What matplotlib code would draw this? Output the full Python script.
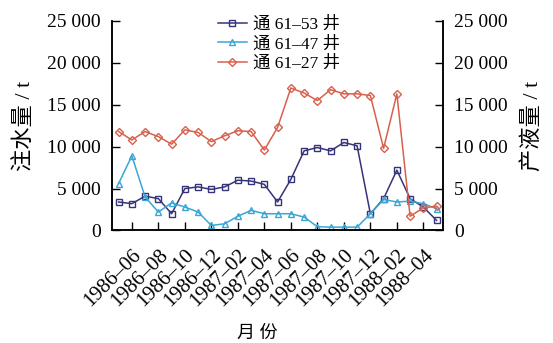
import matplotlib
matplotlib.use("Agg")
import matplotlib.pyplot as plt
import matplotlib.transforms as mtransforms
import numpy as np

# monthly records, 1986-05 .. 1988-05
months = ["1986-05", "1986-06", "1986-07", "1986-08", "1986-09", "1986-10",
          "1986-11", "1986-12", "1987-01", "1987-02", "1987-03", "1987-04",
          "1987-05", "1987-06", "1987-07", "1987-08", "1987-09", "1987-10",
          "1987-11", "1987-12", "1988-01", "1988-02", "1988-03", "1988-04",
          "1988-05"]
inj_61_53 = [3400, 3200, 4100, 3800, 2000, 5000, 5200, 4900, 5200, 6000, 5900,
             5500, 3400, 6100, 9500, 9900, 9500, 10500, 10100, 2000, 3800, 7200,
             3800, 2800, 1200]
inj_61_47 = [5600, 8900, 4000, 2200, 3300, 2800, 2200, 600, 800, 1700, 2400,
             2000, 2000, 2000, 1600, 450, 400, 400, 400, 2000, 3700, 3400,
             3500, 3200, 2600]
prod_61_27 = [11800, 10800, 11800, 11200, 10300, 12000, 11700, 10600, 11300,
              11900, 11800, 9600, 12300, 17000, 16400, 15500, 16800, 16300,
              16300, 16100, 9800, 16300, 1700, 2700, 2900]
yticks = [0, 5000, 10000, 15000, 20000, 25000]
ytick_labels = ["0", "5 000", "10 000", "15 000", "20 000", "25 000"]

FONT = ["Liberation Serif", "Noto Sans CJK SC"]
plt.rcParams["font.family"] = FONT
plt.rcParams["axes.unicode_minus"] = False

x = np.arange(len(months))

fig = plt.figure(figsize=(5.53, 3.43), dpi=100)
ax = fig.add_axes([0.2025, 0.328, 0.599, 0.611])
ax2 = ax.twinx()

l1, = ax.plot(x, inj_61_53, "-s", color="#35347a", lw=1.1, ms=4.5,
              mfc="none", mew=1.0, label="通 61–53 井")
l2, = ax.plot(x, inj_61_47, "-^", color="#3aa6d6", lw=1.1, ms=5,
              mfc="none", mew=1.0, label="通 61–47 井")
l3, = ax2.plot(x, prod_61_27, "-D", color="#d8604c", lw=1.1, ms=4.5,
               mfc="none", mew=1.0, label="通 61–27 井")

for a in (ax, ax2):
    a.set_ylim(0, 25000)
    a.set_yticks(yticks)
    a.set_yticklabels(ytick_labels)
    a.spines["top"].set_visible(False)
    a.tick_params(direction="in", length=6, width=1.0, labelsize=14, pad=8)
    for s in a.spines.values():
        s.set_linewidth(1.1)

ax.set_xlim(-0.5, len(months) - 0.5)
tick_idx = x[1::2]
ax.set_xticks(tick_idx)
ax.set_xticklabels([months[i].replace("-", "–") for i in tick_idx],
                   rotation=45, ha="right", va="top", rotation_mode="anchor")
# rotated date labels sit slightly right of their ticks
shift = mtransforms.ScaledTranslation(26 / 100, 0, fig.dpi_scale_trans)
for lab in ax.get_xticklabels():
    lab.set_transform(lab.get_transform() + shift)
ax.tick_params(axis="x", labelsize=15, pad=11)

ax.set_ylabel("注水量 / t", fontsize=16, labelpad=9)
ax2.set_ylabel("产液量 / t", fontsize=16, labelpad=10)
ax.set_xlabel("月 份", fontsize=13)
ax.xaxis.set_label_coords(0.44, -0.45)

fig.legend(handles=[l1, l2, l3], loc="upper left",
           bbox_to_anchor=(0.394, 0.952), frameon=False, fontsize=12.5,
           borderpad=0, borderaxespad=0, handlelength=1.65,
           handletextpad=0.35, labelspacing=0.2)

fig.savefig("out.png", dpi=100)
plt.close(fig)
